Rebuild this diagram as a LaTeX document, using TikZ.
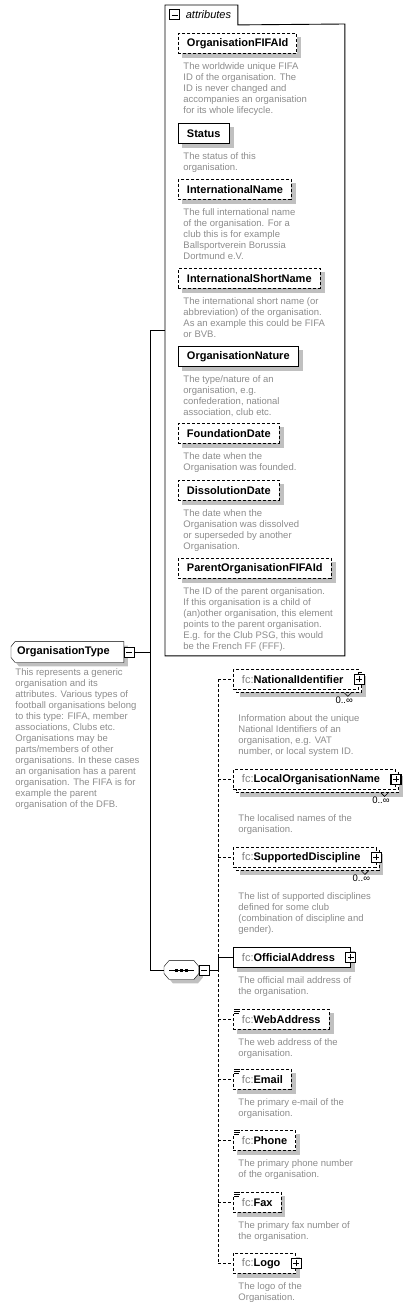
\documentclass[tikz,border=0pt]{standalone}
\usepackage{fontspec}
\setmainfont{Liberation Sans}
\usepackage{tikz}
\usetikzlibrary{positioning,fit,backgrounds}
\definecolor{descgray}{HTML}{8C8C8C}
\definecolor{shadowgray}{HTML}{C0C0C0}
\definecolor{prefixgray}{HTML}{7F7F7F}
\newcommand\fcel[1]{{\mdseries\color{prefixgray}fc:}#1}
\newcommand\plusgap{\hspace*{7pt}}
\tikzset{
  shadowed/.style={preaction={fill=shadowgray, transform canvas={xshift=4pt,yshift=-4pt}}},
  elembox/.style={
    rectangle, draw=black, fill=white, anchor=north west,
    minimum height=20pt, inner xsep=8.5pt, inner ysep=2pt,
    font=\fontsize{11}{13}\selectfont\bfseries
  },
  optbox/.style={elembox, dash pattern=on 3pt off 2pt},
  multibox/.style={
    rectangle, draw=black, fill=white, anchor=north west, dash pattern=on 3pt off 2pt,
    minimum height=20pt, inner xsep=8.5pt, inner ysep=2pt,
    font=\fontsize{11}{13}\selectfont\bfseries,
    preaction={fill=white, draw=black, line width=0.9pt, dash pattern=on 3pt off 2pt,
      transform canvas={xshift=3pt,yshift=-3pt}}
  },
  desc/.style={anchor=north west, inner sep=0pt, align=left,
    font=\fontsize{9.5}{11}\selectfont, text=descgray},
  occ/.style={anchor=north east, inner sep=0pt, font=\fontsize{9.5}{11}\selectfont},
  plusbox/.style={rectangle, draw=black, fill=white, minimum size=10pt, inner sep=0pt, solid,
    line width=1.2pt,
    path picture={\draw[line width=0.8pt] ([xshift=2pt]path picture bounding box.west) -- ([xshift=-2pt]path picture bounding box.east)
      ([yshift=2pt]path picture bounding box.south) -- ([yshift=-2pt]path picture bounding box.north);}},
  minusbox/.style={rectangle, draw=black, fill=white, minimum size=10pt, inner sep=0pt, solid,
    path picture={\draw[line width=0.8pt] ([xshift=2pt]path picture bounding box.west) -- ([xshift=-2pt]path picture bounding box.east);}},
  typebox/.style={rectangle, anchor=west, minimum height=20pt, minimum width=112pt,
    inner xsep=3pt, inner ysep=2pt, font=\fontsize{11}{13}\selectfont\bfseries},
  seqbox/.style={rectangle, anchor=west, minimum height=18pt, minimum width=34pt, inner sep=0pt},
  tabbox/.style={rectangle, anchor=north west, minimum width=72pt, minimum height=19pt,
    inner sep=0pt, font=\fontsize{11}{13}\selectfont\itshape},
  optline/.style={dash pattern=on 3pt off 2pt},
  simplemark/.pic={
    \fill[white] (-0.5,-1) rectangle (8,5);
    \draw[line width=0.7pt] (1,0.5) -- (7,0.5) (1,2.3) -- (7,2.3) (1,4.1) -- (5.5,4.1);
  }
}

\begin{document}
\begin{tikzpicture}[x=1pt, y=-1pt, line width=0.9pt]
\useasboundingbox (0,0) rectangle (414,1306);

% the complex type
\node[typebox] (ot) at (11,652) {OrganisationType\hspace*{8pt}};
\begin{scope}[on background layer]
\draw[fill=white, shadowed] ([yshift=-5pt]ot.north west) -- ([xshift=4pt]ot.north west) -- (ot.north east)
  -- (ot.south east) -- ([xshift=4pt]ot.south west) -- ([yshift=5pt]ot.south west) -- cycle;
\end{scope}
\node[minusbox, right=0pt of ot] (otminus) {};
\node[desc] (otdesc) at (15,668) {This represents a generic\\organisation and its\\attributes. Various types of\\football organisations belong\\to this type: FIFA, member\\associations, Clubs etc.\\Organisations may be\\parts/members of other\\organisations. In these cases\\an organisation has a parent\\organisation. The FIFA is for\\example the parent\\organisation of the DFB.};

% attributes group
\node[tabbox] (attrtab) at (165,5) {\hspace*{14pt}attributes};
\node[minusbox] (tabminus) at ([xshift=9.5pt]attrtab.west) {};
\node[rectangle, anchor=north west, minimum width=179pt, minimum height=631pt, inner sep=0pt] (attrbox) at (165,24) {};
\draw (attrbox.south west) -- (attrtab.north west) -- (attrtab.north east) -- (attrtab.south east)
  -- (attrbox.north east) -- (attrbox.south east) -- cycle;
\node[fit=(attrtab)(attrbox), inner sep=0pt] (attrgroup) {};

\node[optbox] (ofid) at (178,33) {OrganisationFIFAId};
\node[desc, below right=8pt and 5pt of ofid.south west] (ofiddesc) {The worldwide unique FIFA\\ID of the organisation. The\\ID is never changed and\\accompanies an organisation\\for its whole lifecycle.};
\node[elembox] (status) at (178,123) {Status};
\node[desc, below right=8pt and 5pt of status.south west] (statusdesc) {The status of this\\organisation.};
\node[optbox] (iname) at (178,179) {InternationalName};
\node[desc, below right=8pt and 5pt of iname.south west] (inamedesc) {The full international name\\of the organisation. For a\\club this is for example\\Ballsportverein Borussia\\Dortmund e.V.};
\node[optbox] (isname) at (178,268) {InternationalShortName};
\node[desc, below right=8pt and 5pt of isname.south west] (isnamedesc) {The international short name (or\\abbreviation) of the organisation.\\As an example this could be FIFA\\or BVB.};
\node[elembox] (onature) at (178,346) {OrganisationNature};
\node[desc, below right=8pt and 5pt of onature.south west] (onaturedesc) {The type/nature of an\\organisation, e.g.\\confederation, national\\association, club etc.};
\node[optbox] (fdate) at (178,423) {FoundationDate};
\node[desc, below right=8pt and 5pt of fdate.south west] (fdatedesc) {The date when the\\Organisation was founded.};
\node[optbox] (ddate) at (178,480) {DissolutionDate};
\node[desc, below right=8pt and 5pt of ddate.south west] (ddatedesc) {The date when the\\Organisation was dissolved\\or superseded by another\\Organisation.};
\node[optbox] (pofid) at (178,558) {ParentOrganisationFIFAId};
\node[desc, below right=8pt and 5pt of pofid.south west] (pofiddesc) {The ID of the parent organisation.\\If this organisation is a child of\\(an)other organisation, this element\\points to the parent organisation.\\E.g. for the Club PSG, this would\\be the French FF (FFF).};

% sequence
\node[seqbox] (seq) at (164,970) {};
\begin{scope}[on background layer]
\draw[fill=white, shadowed] ([xshift=5pt]seq.north west) -- ([xshift=-5pt]seq.north east) -- ([yshift=-6pt]seq.north east)
  -- ([yshift=6pt]seq.south east) -- ([xshift=-5pt]seq.south east) -- ([xshift=5pt]seq.south west)
  -- ([yshift=6pt]seq.south west) -- ([yshift=-6pt]seq.north west) -- cycle;
\end{scope}
\draw ([xshift=5pt]seq.west) -- ([xshift=-5pt]seq.east);
\fill ([xshift=-6.5pt,yshift=-1.5pt]seq.center) rectangle ++(3pt,3pt);
\fill ([xshift=-1.5pt,yshift=-1.5pt]seq.center) rectangle ++(3pt,3pt);
\fill ([xshift=3.5pt,yshift=-1.5pt]seq.center) rectangle ++(3pt,3pt);
\node[minusbox, right=0pt of seq] (seqminus) {};

% child elements
\node[multibox] (nid) at (233,669) {\fcel{NationalIdentifier}\plusgap};
\node[plusbox] (nidplus) at (nid.east) {};
\node[occ] (nidocc) at ([xshift=-6pt,yshift=-7pt]nid.south east) {0..∞};
\draw[line width=0.6pt] ([xshift=-15pt,yshift=-3pt]nid.south east) -- ++(3.5,3.5) -- ++(3.5,-3.5);
\node[desc, below right=24pt and 5pt of nid.south west] (niddesc) {Information about the unique\\National Identifiers of an\\organisation, e.g. VAT\\number, or local system ID.};

\node[multibox] (lon) at (233,769) {\fcel{LocalOrganisationName}\plusgap};
\node[plusbox] (lonplus) at (lon.east) {};
\node[occ] (lonocc) at ([xshift=-6pt,yshift=-7pt]lon.south east) {0..∞};
\draw[line width=0.6pt] ([xshift=-15pt,yshift=-3pt]lon.south east) -- ++(3.5,3.5) -- ++(3.5,-3.5);
\node[desc, below right=24pt and 5pt of lon.south west] (londesc) {The localised names of the\\organisation.};

\node[multibox] (sdis) at (233,847) {\fcel{SupportedDiscipline}\plusgap};
\node[plusbox] (sdisplus) at (sdis.east) {};
\node[occ] (sdisocc) at ([xshift=-6pt,yshift=-7pt]sdis.south east) {0..∞};
\draw[line width=0.6pt] ([xshift=-15pt,yshift=-3pt]sdis.south east) -- ++(3.5,3.5) -- ++(3.5,-3.5);
\node[desc, below right=24pt and 5pt of sdis.south west] (sdisdesc) {The list of supported disciplines\\defined for some club\\(combination of discipline and\\gender).};

\node[elembox] (offaddr) at (233,947) {\fcel{OfficialAddress}\plusgap};
\node[plusbox] (offaddrplus) at (offaddr.east) {};
\node[desc, below right=8pt and 5pt of offaddr.south west] (offaddrdesc) {The official mail address of\\the organisation.};

\node[optbox] (web) at (233,1009) {\fcel{WebAddress}};
\pic at (web.north west) {simplemark};
\node[desc, below right=8pt and 5pt of web.south west] (webdesc) {The web address of the\\organisation.};

\node[optbox] (mail) at (233,1069) {\fcel{Email}};
\pic at (mail.north west) {simplemark};
\node[desc, below right=8pt and 5pt of mail.south west] (maildesc) {The primary e-mail of the\\organisation.};

\node[optbox] (phone) at (233,1130) {\fcel{Phone}};
\pic at (phone.north west) {simplemark};
\node[desc, below right=8pt and 5pt of phone.south west] (phonedesc) {The primary phone number\\of the organisation.};

\node[optbox] (fax) at (233,1192) {\fcel{Fax}};
\pic at (fax.north west) {simplemark};
\node[desc, below right=8pt and 5pt of fax.south west] (faxdesc) {The primary fax number of\\the organisation.};

\node[optbox] (logo) at (233,1253) {\fcel{Logo}\plusgap};
\node[plusbox] (logoplus) at (logo.east) {};
\node[desc, below right=8pt and 5pt of logo.south west] (logodesc) {The logo of the\\Organisation.};

% box shadows
\begin{scope}[on background layer]
\foreach \n in {ofid,status,iname,isname,onature,fdate,ddate,pofid,offaddr,web,mail,phone,fax,logo}
  \fill[shadowgray] ([xshift=4pt,yshift=-4pt]\n.north west) rectangle ([xshift=4pt,yshift=-4pt]\n.south east);
\foreach \n in {nid,lon,sdis}
  \fill[shadowgray] ([xshift=7pt,yshift=-7pt]\n.north west) rectangle ([xshift=7pt,yshift=-7pt]\n.south east);
\end{scope}

% connectors
\coordinate (jn) at (150,652);
\coordinate (bus) at (218,680);
\draw (otminus.east) -- (jn);
\draw (jn) |- (attrgroup.west);
\draw (jn) |- (seq.west);
\draw (seqminus.east) -- (seqminus.east -| bus) |- (offaddr.west);
\draw[optline] (nid.west -| bus) -- (logo.west -| bus);
\draw[optline] (nid.west -| bus) -- (nid.west);
\draw[optline] (lon.west -| bus) -- (lon.west);
\draw[optline] (sdis.west -| bus) -- (sdis.west);
\draw[optline] (web.west -| bus) -- (web.west);
\draw[optline] (mail.west -| bus) -- (mail.west);
\draw[optline] (phone.west -| bus) -- (phone.west);
\draw[optline] (fax.west -| bus) -- (fax.west);
\draw[optline] (logo.west -| bus) -- (logo.west);
\end{tikzpicture}
\end{document}
